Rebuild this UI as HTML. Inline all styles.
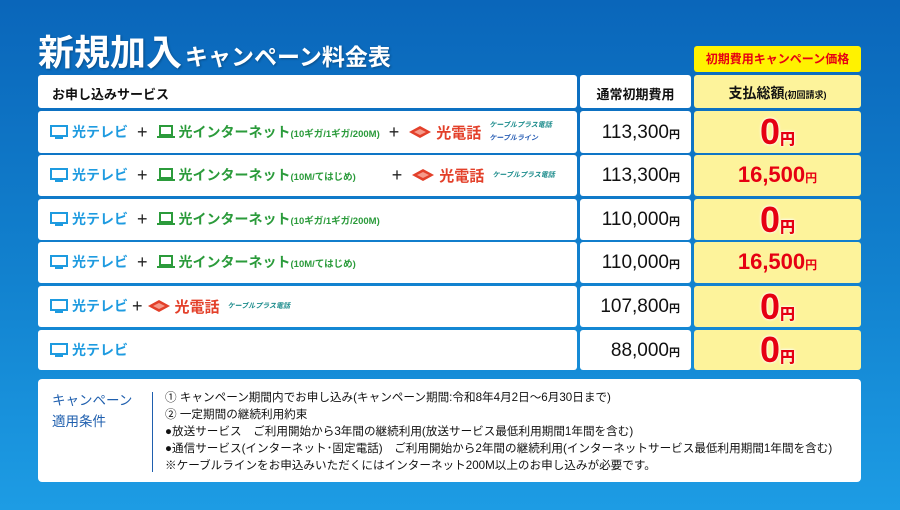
<!DOCTYPE html>
<html><head><meta charset="utf-8"><style>
*{margin:0;padding:0;box-sizing:border-box}
body{width:900px;height:510px;overflow:hidden;background:linear-gradient(180deg,#0a66ba 0%,#1282cf 55%,#1d9ce4 100%);font-family:"Liberation Sans","Noto Sans CJK JP",sans-serif;position:relative}
.a{position:absolute}
.c{position:absolute;background:#fff;border-radius:3px}
.y{position:absolute;background:#fdf39b;border-radius:3px}
.row{position:absolute;left:50px;height:20px;display:flex;align-items:center;font-weight:bold;white-space:nowrap}
.tv{color:#1e9be0;font-size:14px}
.net{color:#2b9b3b;font-size:14px}
.tel{color:#e3402a;font-size:15px}
.sm{font-size:9.5px}
.pl{color:#222;font-size:18px;font-weight:normal;margin:0 9px}
.ic{display:inline-block;margin-right:4px}
.price{position:absolute;left:580px;width:100px;text-align:right;font-size:19px;color:#111}
.price small{font-size:11px;font-weight:bold}
.zero{position:absolute;left:694px;width:167px;text-align:center;color:#e60012;font-weight:900;font-size:36px;text-shadow:0 0 2px #fff,0 0 3px #fff;line-height:40px}
.zero small{font-size:15px}
.mid{position:absolute;left:694px;width:167px;text-align:center;color:#e60012;font-weight:bold;font-size:22px}
.mid small{font-size:12px}
.logo{font-size:7px;color:#1c8c8c;font-weight:bold;font-style:italic}
</style></head><body>
<div class="a" style="left:38px;top:24px;color:#fff;font-weight:bold;white-space:nowrap;text-shadow:1px 1px 2px rgba(0,0,0,.3)"><span style="font-size:36px">新規加入</span><span style="font-size:23px;margin-left:3px">キャンペーン料金表</span></div>
<div class="a" style="left:694px;top:46px;width:167px;height:26px;background:#fff200;border-radius:3px;color:#e60012;font-size:12px;font-weight:bold;text-align:center;line-height:26px">初期費用キャンペーン価格</div>

<div class="c" style="left:38px;top:75px;width:539px;height:33px"></div>
<div class="a" style="left:52px;top:84px;font-size:13px;font-weight:bold;color:#111">お申し込みサービス</div>
<div class="c" style="left:580px;top:75px;width:111px;height:33px"></div>
<div class="a" style="left:580px;top:84px;width:111px;text-align:center;font-size:13px;font-weight:bold;color:#111">通常初期費用</div>
<div class="y" style="left:694px;top:75px;width:167px;height:33px"></div>
<div class="a" style="left:694px;top:83px;width:167px;text-align:center;font-size:14px;font-weight:bold;color:#111">支払総額<span style="font-size:9px">(初回請求)</span></div>

<div class="c" style="left:38px;top:111px;width:539px;height:42px"></div>
<div class="c" style="left:580px;top:111px;width:111px;height:42px"></div>
<div class="y" style="left:694px;top:111px;width:167px;height:42px"></div>
<div class="c" style="left:38px;top:155px;width:539px;height:41px"></div>
<div class="c" style="left:580px;top:155px;width:111px;height:41px"></div>
<div class="y" style="left:694px;top:155px;width:167px;height:41px"></div>
<div class="c" style="left:38px;top:199px;width:539px;height:41px"></div>
<div class="c" style="left:580px;top:199px;width:111px;height:41px"></div>
<div class="y" style="left:694px;top:199px;width:167px;height:41px"></div>
<div class="c" style="left:38px;top:242px;width:539px;height:41px"></div>
<div class="c" style="left:580px;top:242px;width:111px;height:41px"></div>
<div class="y" style="left:694px;top:242px;width:167px;height:41px"></div>
<div class="c" style="left:38px;top:286px;width:539px;height:41px"></div>
<div class="c" style="left:580px;top:286px;width:111px;height:41px"></div>
<div class="y" style="left:694px;top:286px;width:167px;height:41px"></div>
<div class="c" style="left:38px;top:330px;width:539px;height:40px"></div>
<div class="c" style="left:580px;top:330px;width:111px;height:40px"></div>
<div class="y" style="left:694px;top:330px;width:167px;height:40px"></div>

<svg width="0" height="0" style="position:absolute"><defs>
<symbol id="tv" viewBox="0 0 18 14"><rect x="1" y="1" width="16" height="10" fill="none" stroke="#1e9be0" stroke-width="2"/><rect x="5" y="12" width="8" height="2" fill="#1e9be0"/></symbol>
<symbol id="pc" viewBox="0 0 18 14"><rect x="3" y="1" width="12" height="9" fill="none" stroke="#2b9b3b" stroke-width="2"/><rect x="0" y="11" width="18" height="2" fill="#2b9b3b"/></symbol>
<symbol id="ph" viewBox="0 0 24 12"><path d="M1 6 L12 0 L23 6 L12 12 Z" fill="#e3402a"/><path d="M6 6 L12 3 L18 6 L12 9Z" fill="#f59a8a"/></symbol>
</defs></svg>

<div class="row" style="top:122px"><svg class="ic" width="18" height="14"><use href="#tv"/></svg><span class="tv">光テレビ</span><span class="pl">+</span><svg class="ic" width="18" height="14"><use href="#pc"/></svg><span class="net">光インターネット<span class="sm">(10ギガ/1ギガ/200M)</span></span><span class="pl">+</span><svg class="ic" width="24" height="12"><use href="#ph"/></svg><span class="tel">光電話</span><span style="display:inline-flex;flex-direction:column;margin-left:8px;line-height:13px"><span class="logo">ケーブルプラス電話</span><span class="logo" style="color:#2a5fb5">ケーブルライン</span></span></div>
<div class="row" style="top:165px"><svg class="ic" width="18" height="14"><use href="#tv"/></svg><span class="tv">光テレビ</span><span class="pl">+</span><svg class="ic" width="18" height="14"><use href="#pc"/></svg><span class="net">光インターネット<span class="sm">(10M/てはじめ)</span></span><span class="pl" style="margin-left:36px">+</span><svg class="ic" width="24" height="12"><use href="#ph"/></svg><span class="tel">光電話</span><span class="logo" style="margin-left:8px">ケーブルプラス電話</span></div>
<div class="row" style="top:209px"><svg class="ic" width="18" height="14"><use href="#tv"/></svg><span class="tv">光テレビ</span><span class="pl">+</span><svg class="ic" width="18" height="14"><use href="#pc"/></svg><span class="net">光インターネット<span class="sm">(10ギガ/1ギガ/200M)</span></span></div>
<div class="row" style="top:252px"><svg class="ic" width="18" height="14"><use href="#tv"/></svg><span class="tv">光テレビ</span><span class="pl">+</span><svg class="ic" width="18" height="14"><use href="#pc"/></svg><span class="net">光インターネット<span class="sm">(10M/てはじめ)</span></span></div>
<div class="row" style="top:296px"><svg class="ic" width="18" height="14"><use href="#tv"/></svg><span class="tv">光テレビ</span><span class="pl" style="margin:0 4px">+</span><svg class="ic" width="24" height="12"><use href="#ph"/></svg><span class="tel">光電話</span><span class="logo" style="margin-left:8px">ケーブルプラス電話</span></div>
<div class="row" style="top:340px"><svg class="ic" width="18" height="14"><use href="#tv"/></svg><span class="tv">光テレビ</span></div>

<div class="price" style="top:122px">113,300<small>円</small></div>
<div class="price" style="top:165px">113,300<small>円</small></div>
<div class="price" style="top:209px">110,000<small>円</small></div>
<div class="price" style="top:252px">110,000<small>円</small></div>
<div class="price" style="top:296px">107,800<small>円</small></div>
<div class="price" style="top:340px">88,000<small>円</small></div>

<div class="zero" style="top:112px">0<small>円</small></div>
<div class="mid" style="top:162px">16,500<small>円</small></div>
<div class="zero" style="top:200px">0<small>円</small></div>
<div class="mid" style="top:249px">16,500<small>円</small></div>
<div class="zero" style="top:287px">0<small>円</small></div>
<div class="zero" style="top:330px">0<small>円</small></div>

<div class="c" style="left:38px;top:379px;width:823px;height:103px;border-radius:4px"></div>
<div class="a" style="left:52px;top:390px;color:#1f5fae;font-size:13.5px;line-height:21px">キャンペーン<br>適用条件</div>
<div class="a" style="left:152px;top:392px;width:1px;height:80px;background:#1f5fae"></div>
<div class="a" style="left:165px;top:389px;color:#111;font-size:11.6px;line-height:17px;white-space:nowrap">① キャンペーン期間内でお申し込み(キャンペーン期間:令和8年4月2日～6月30日まで)<br>② 一定期間の継続利用約束<br>●放送サービス　ご利用開始から3年間の継続利用(放送サービス最低利用期間1年間を含む)<br>●通信サービス(インターネット･固定電話)　ご利用開始から2年間の継続利用(インターネットサービス最低利用期間1年間を含む)<br>※ケーブルラインをお申込みいただくにはインターネット200M以上のお申し込みが必要です。</div>
</body></html>
